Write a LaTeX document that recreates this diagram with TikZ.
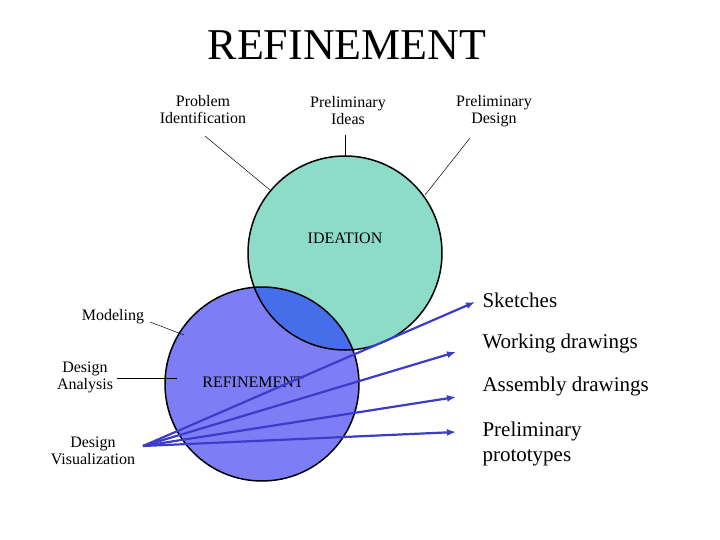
\documentclass[tikz,border=0pt]{standalone}
\usepackage{fontspec}
\setmainfont{Liberation Serif}
\begin{document}
\begin{tikzpicture}[x=1pt,y=-1pt,
 lab/.style={font=\fontsize{16}{17}\selectfont,align=center},
 big/.style={font=\fontsize{21}{25}\selectfont,align=left,anchor=west},
 arr/.style={draw=blue!60!black!80!blue,line width=2.2pt,-{Latex[length=9pt,width=7pt]}},
 thin/.style={draw=black,line width=0.5pt}]
\usetikzlibrary{arrows.meta}
\useasboundingbox (0,0) rectangle (720,540);
\node[font=\fontsize{44}{48}\selectfont] (title) at (347,45) {REFINEMENT};
% circles
\fill[fill={rgb,255:red,140;green,220;blue,200}] (345,253) circle (97);
\fill[fill={rgb,255:red,125;green,125;blue,245}] (262,384) circle (97);
\begin{scope}
\clip (345,253) circle (97);
\fill[fill={rgb,255:red,70;green,110;blue,235}] (262,384) circle (97);
\end{scope}
\draw[line width=1.5pt] (345,253) circle (97);
\draw[line width=1.5pt] (262,384) circle (97);
\coordinate (gc) at (345,253);
\coordinate (bc) at (262,384);
\node[font=\fontsize{16}{17}\selectfont] (ideation) at (345,238) {IDEATION};
\node[font=\fontsize{16}{17}\selectfont] (refin) at (253,382) {REFINEMENT};
% top labels
\node[lab] (pi) at (203,110) {Problem\\Identification};
\node[lab] (pid) at (348,111) {Preliminary\\Ideas};
\node[lab] (pd) at (494,111) {Preliminary\\Design};
\coordinate (pie) at (270,190);
\coordinate (pide) at (345,157);
\coordinate (pde) at (425,195);
\draw[thin] (205,136) -- (pie);
\draw[thin] (345,135) -- (pide);
\draw[thin] (470,138) -- (pde);
% left labels
\node[lab] (mod) at (113,317) {Modeling};
\node[lab] (da) at (85,377) {Design\\Analysis};
\node[lab] (dv) at (93,451) {Design\\Visualization};
\coordinate (mode) at (184,335);
\coordinate (dae) at (177,378);
\draw[thin] (150,322) -- (mode);
\draw[thin] (117,378) -- (dae);
% right labels
\node[big] (sk) at (479,300) {Sketches};
\node[big] (wd) at (479,343) {Working drawings};
\node[big] (ad) at (479,386) {Assembly drawings};
\node[big] (pp) at (479,444) {Preliminary\\prototypes};
\coordinate (src) at (143,446);
\coordinate (e1) at (475,302);
\coordinate (e2) at (456,352);
\coordinate (e3) at (456,397);
\coordinate (e4) at (456,432);
\draw[arr,draw={rgb,255:red,60;green,60;blue,200}] (src) -- (e1);
\draw[arr,draw={rgb,255:red,60;green,60;blue,200}] (src) -- (e2);
\draw[arr,draw={rgb,255:red,60;green,60;blue,200}] (src) -- (e3);
\draw[arr,draw={rgb,255:red,60;green,60;blue,200}] (src) -- (e4);
\end{tikzpicture}
\end{document}
